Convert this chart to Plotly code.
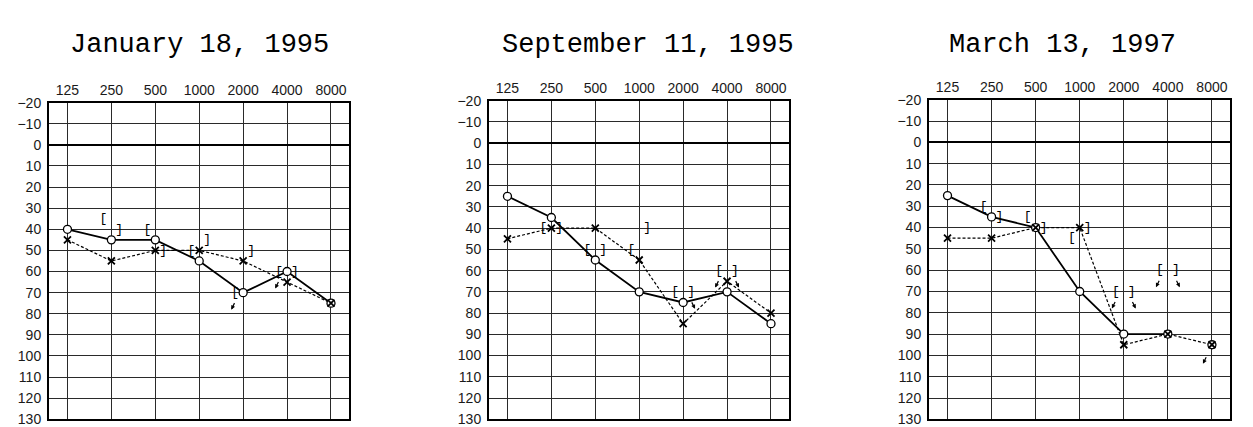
import plotly.graph_objects as go

# ---------------- data ----------------
FREQS = [125, 250, 500, 1000, 2000, 4000, 8000]
FREQ_LABELS = [str(f) for f in FREQS]
DB_TICKS = list(range(-20, 131, 10))
DB_LABELS_LEFT = [("\u2212" + str(-v)) if v < 0 else str(v) for v in DB_TICKS]
DB_LABELS_RIGHT = [("\u2013" + str(-v)) if v < 0 else str(v) for v in DB_TICKS]

TITLES = ["January 18, 1995", "September 11, 1995", "March 13, 1997"]

# air conduction thresholds (dB HL); right ear = O (solid), left ear = X (dashed)
jan_right = [40, 45, 45, 55, 70, 60, 75]
jan_left = [45, 55, 50, 50, 55, 65, 75]
sep_right = [25, 35, 55, 70, 75, 70, 85]
sep_left = [45, 40, 40, 55, 85, 65, 80]
mar_right = [25, 35, 40, 70, 90, 90, None]
mar_left = [45, 45, 40, 40, 95, 90, 95]

# right-ear no-response points (not joined by the solid line)
jan_right_nr_freq, jan_right_nr_db = [], []
sep_right_nr_freq, sep_right_nr_db = [], []
mar_right_nr_freq, mar_right_nr_db = [8000], [95]

# masked bone conduction: "[" right ear, "]" left ear; nr = no response (arrow)
jan_bc_freq = [250, 250, 500, 500, 1000, 1000, 2000, 2000, 4000, 4000]
jan_bc_db = [35, 40, 40, 50, 50, 45, 70, 50, 60, 60]
jan_bc_sym = ["[", "]", "[", "]", "[", "]", "[", "]", "[", "]"]
jan_bc_nr = [0, 0, 0, 0, 0, 0, 1, 0, 1, 0]

sep_bc_freq = [250, 250, 500, 500, 1000, 1000, 2000, 2000, 4000, 4000]
sep_bc_db = [40, 40, 50, 50, 50, 40, 70, 70, 60, 60]
sep_bc_sym = ["[", "]", "[", "]", "[", "]", "[", "]", "[", "]"]
sep_bc_nr = [0, 0, 0, 0, 0, 0, 0, 1, 1, 1]

mar_bc_freq = [250, 250, 500, 500, 1000, 1000, 2000, 2000, 4000, 4000]
mar_bc_db = [30, 35, 35, 40, 45, 40, 70, 70, 60, 60]
mar_bc_sym = ["[", "]", "[", "]", "[", "]", "[", "]", "[", "]"]
mar_bc_nr = [0, 0, 0, 0, 0, 0, 1, 1, 1, 1]

# air conduction no-response arrows (freq, dB)
mar_ac_nr_freq, mar_ac_nr_db = [8000], [95]

panels = [
    dict(title=TITLES[0], right=jan_right, left=jan_left,
         rnr_f=jan_right_nr_freq, rnr_d=jan_right_nr_db,
         bcf=jan_bc_freq, bcd=jan_bc_db, bcs=jan_bc_sym, bcn=jan_bc_nr,
         acnf=[], acnd=[]),
    dict(title=TITLES[1], right=sep_right, left=sep_left,
         rnr_f=sep_right_nr_freq, rnr_d=sep_right_nr_db,
         bcf=sep_bc_freq, bcd=sep_bc_db, bcs=sep_bc_sym, bcn=sep_bc_nr,
         acnf=[], acnd=[]),
    dict(title=TITLES[2], right=mar_right, left=mar_left,
         rnr_f=mar_right_nr_freq, rnr_d=mar_right_nr_db,
         bcf=mar_bc_freq, bcd=mar_bc_db, bcs=mar_bc_sym, bcn=mar_bc_nr,
         acnf=mar_ac_nr_freq, acnd=mar_ac_nr_db),
]

# ---------------- layout geometry (pixels) ----------------
W, H = 1253, 427
X_DOM_PX = [(41, 341), (481, 781), (921, 1222)]
Y_DOM_PX = [(90, 419), (88, 419), (87, 419)]
TITLE_X_PX = [191, 640, 1054]
TITLE_Y_PX = 30
X_RANGE = [-0.42, 6.41]
BR_OFF = 0.18

fidx = {f: i for i, f in enumerate(FREQS)}
GRID = "#2a2a2a"
TICKFONT = dict(family="Liberation Sans, Arial, sans-serif", size=14, color="#1a1a1a")

fig = go.Figure()
layout = dict(width=W, height=H, margin=dict(l=0, r=0, t=0, b=0),
              paper_bgcolor="white", plot_bgcolor="white", showlegend=False)
annotations = []

for i, p in enumerate(panels, start=1):
    xa = "x" if i == 1 else f"x{i}"
    ya = "y" if i == 1 else f"y{i}"
    xs = list(range(len(FREQS)))

    # left ear: dashed line
    fig.add_trace(go.Scatter(x=xs, y=p["left"], mode="lines", xaxis=xa, yaxis=ya,
                             line=dict(color="black", width=1.2, dash="3px,2px"),
                             hoverinfo="skip"))
    # right ear: solid line with open circles
    fig.add_trace(go.Scatter(x=xs, y=p["right"], mode="lines+markers", xaxis=xa, yaxis=ya,
                             line=dict(color="black", width=1.8),
                             marker=dict(symbol="circle", size=8, color="white",
                                         line=dict(color="black", width=1.3)),
                             connectgaps=False, hoverinfo="skip"))
    if p["rnr_f"]:
        fig.add_trace(go.Scatter(x=[fidx[f] for f in p["rnr_f"]], y=p["rnr_d"], mode="markers",
                                 xaxis=xa, yaxis=ya,
                                 marker=dict(symbol="circle", size=8, color="white",
                                             line=dict(color="black", width=1.3)),
                                 hoverinfo="skip"))
    # left ear X markers on top
    fig.add_trace(go.Scatter(x=xs, y=p["left"], mode="markers", xaxis=xa, yaxis=ya,
                             marker=dict(symbol="x-thin-open", size=7, color="black",
                                         line=dict(color="black", width=1.8)),
                             hoverinfo="skip"))
    # bone conduction brackets
    bx = [fidx[f] + (-BR_OFF if s == "[" else BR_OFF) for f, s in zip(p["bcf"], p["bcs"])]
    fig.add_trace(go.Scatter(x=bx, y=p["bcd"], mode="text", text=p["bcs"],
                             xaxis=xa, yaxis=ya,
                             textfont=dict(family="Liberation Mono, Courier New, monospace",
                                           size=13, color="black"),
                             hoverinfo="skip"))
    # no-response arrows under brackets
    for x0, d, s, nr in zip(bx, p["bcd"], p["bcs"], p["bcn"]):
        if not nr:
            continue
        sgn = -1 if s == "[" else 1
        annotations.append(dict(x=x0, y=d, xref=xa, yref=ya, text="", showarrow=True,
                                arrowhead=2, arrowsize=0.7, arrowwidth=1.2,
                                arrowcolor="black", ax=-sgn * 4, ay=-8,
                                xshift=sgn * 4, yshift=-17))
    for f, d in zip(p["acnf"], p["acnd"]):
        annotations.append(dict(x=fidx[f], y=d, xref=xa, yref=ya, text="", showarrow=True,
                                arrowhead=2, arrowsize=0.7, arrowwidth=1.2,
                                arrowcolor="black", ax=4, ay=-8,
                                xshift=-9, yshift=-19))

    x0p, x1p = X_DOM_PX[i - 1]
    y0p, y1p = Y_DOM_PX[i - 1]
    ydom = [(H - y1p) / H, (H - y0p) / H]
    layout["xaxis" if i == 1 else f"xaxis{i}"] = dict(
        domain=[x0p / W, x1p / W], range=X_RANGE, anchor=ya, side="top",
        tickmode="array", tickvals=xs, ticktext=FREQ_LABELS, tickfont=TICKFONT,
        ticks="", showgrid=True, gridcolor=GRID, gridwidth=1, zeroline=False,
        showline=True, mirror=True, linecolor="black", linewidth=2, fixedrange=True)
    layout["yaxis" if i == 1 else f"yaxis{i}"] = dict(
        domain=ydom, range=[130, -20], anchor=xa,
        tickmode="array", tickvals=DB_TICKS, ticktext=DB_LABELS_LEFT, tickfont=TICKFONT,
        ticks="", ticklabelstandoff=3, showgrid=True, gridcolor=GRID, gridwidth=1,
        zeroline=True, zerolinecolor="black", zerolinewidth=2,
        showline=True, mirror=True, linecolor="black", linewidth=2, fixedrange=True)
    layout[f"yaxis{i + 3}"] = dict(
        overlaying=ya, anchor=xa, side="right", range=[130, -20],
        tickmode="array", tickvals=DB_TICKS, ticktext=DB_LABELS_RIGHT, tickfont=TICKFONT,
        ticks="", ticklabelstandoff=6, showgrid=False, zeroline=False, showline=False,
        fixedrange=True)

    annotations.append(dict(x=TITLE_X_PX[i - 1] / W, y=(H - TITLE_Y_PX) / H,
                            xref="paper", yref="paper", text=p["title"], showarrow=False,
                            xanchor="center", yanchor="middle",
                            font=dict(family="Liberation Mono, Courier New, monospace",
                                      size=27, color="black")))

layout["annotations"] = annotations
fig.update_layout(**layout)
fig.write_html("out.html")
